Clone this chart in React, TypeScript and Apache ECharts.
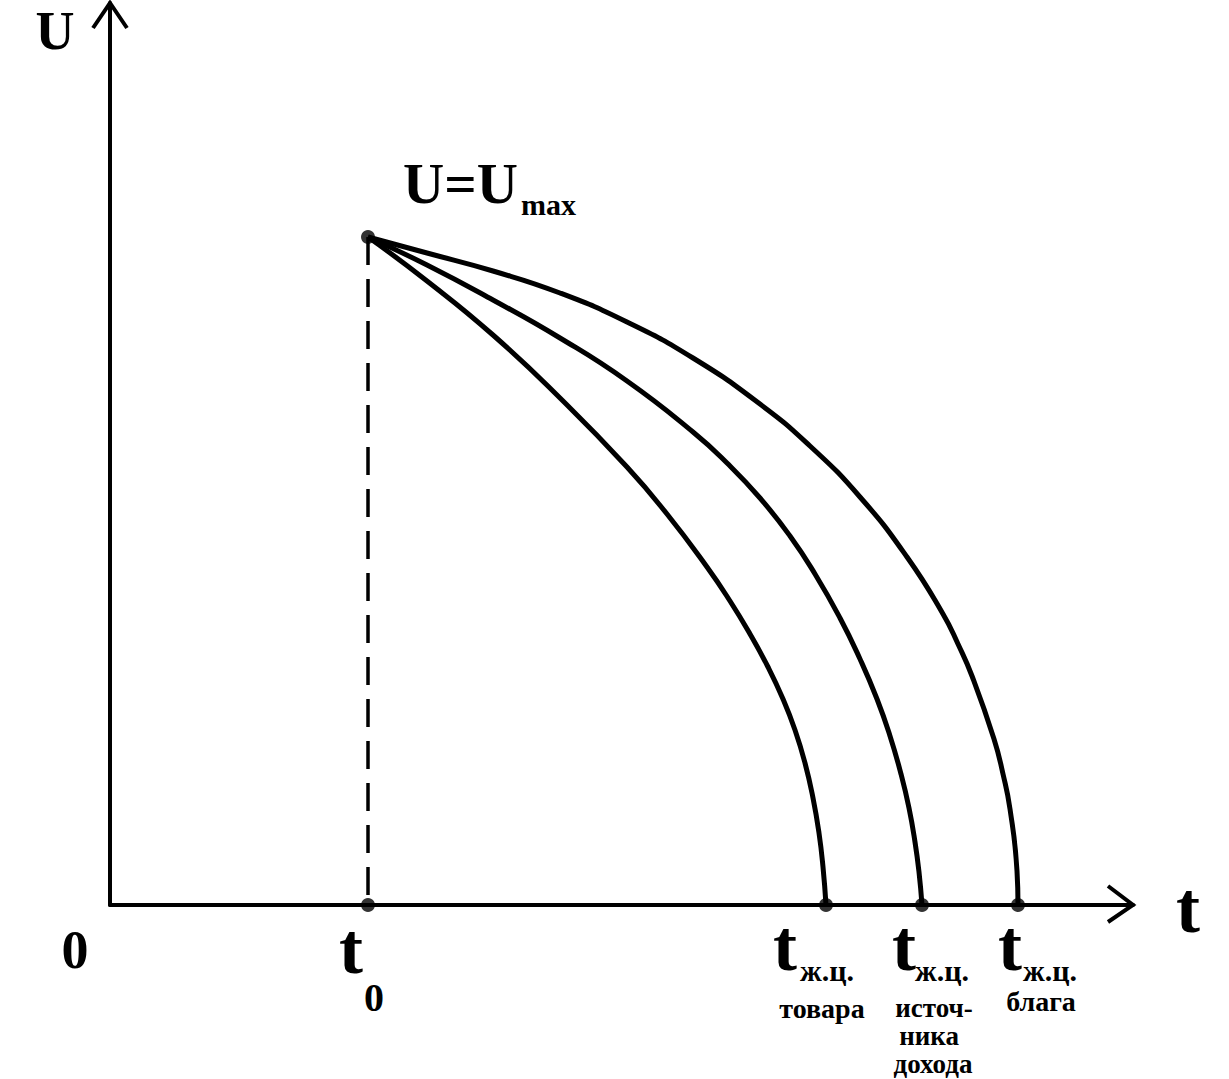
import React, { useEffect, useRef } from "react";
import * as echarts from "echarts";

// Data (x: time units, y: utility units)
const peakPoint: [number, number] = [258, 668];
const curveGoods: [number, number][] = [
  [258, 668], [317, 624], [383, 570], [450, 507], [517, 438], [557, 391],
  [597, 338], [620, 304], [640, 271], [658, 238], [673, 206], [685, 175],
  [695, 142], [703, 107], [709, 72], [713, 38], [716, 0],
];
const curveIncome: [number, number][] = [
  [258, 668], [317, 640], [383, 605], [450, 567], [517, 524], [583, 473],
  [617, 442], [650, 407], [680, 369], [705, 331], [730, 287], [750, 246],
  [767, 206], [780, 169], [791, 131], [799, 97], [805, 63], [809, 33], [812, 0],
];
const curveBenefit: [number, number][] = [
  [258, 668], [317, 652], [383, 634], [450, 612], [517, 583], [583, 547],
  [650, 501], [700, 459], [750, 408], [797, 348], [833, 291], [848, 261],
  [862, 229], [884, 166], [893, 131], [900, 96], [907, 34], [908, 0],
];
const axisDots: [number, number][] = [[258, 0], [716, 0], [812, 0], [908, 0]];
const X_MAX = 1023;
const Y_MAX = 902;

const FONT = "'Liberation Serif', 'DejaVu Serif', serif";

export default function App() {
  const ref = useRef<HTMLDivElement>(null);
  useEffect(() => {
    if (!ref.current) return;
    const chart = echarts.init(ref.current, undefined, { renderer: "svg" });
    const lineStyle = { color: "#000", width: 5 };
    const txt = (
      text: string,
      x: number,
      y: number,
      size: number,
      align: string = "center"
    ) => ({
      type: "text",
      x,
      y,
      style: {
        text,
        fill: "#000",
        font: `bold ${size}px ${FONT}`,
        align,
        verticalAlign: "middle",
      },
    });
    chart.setOption({
      animation: false,
      backgroundColor: "#fff",
      grid: { left: 110, right: 96, top: 3, bottom: 174 },
      xAxis: {
        type: "value",
        min: 0,
        max: X_MAX,
        axisLine: { show: true, onZero: false, lineStyle: { color: "#000", width: 4 } },
        axisTick: { show: false },
        axisLabel: { show: false },
        splitLine: { show: false },
      },
      yAxis: {
        type: "value",
        min: 0,
        max: Y_MAX,
        axisLine: { show: true, onZero: false, lineStyle: { color: "#000", width: 4 } },
        axisTick: { show: false },
        axisLabel: { show: false },
        splitLine: { show: false },
      },
      series: [
        {
          type: "line",
          data: [peakPoint, [peakPoint[0], 0]],
          showSymbol: false,
          lineStyle: { color: "#000", width: 3.5, type: [28, 14] },
        },
        { type: "line", data: curveGoods, smooth: 0.5, showSymbol: false, lineStyle },
        { type: "line", data: curveIncome, smooth: 0.5, showSymbol: false, lineStyle },
        { type: "line", data: curveBenefit, smooth: 0.5, showSymbol: false, lineStyle },
        {
          type: "scatter",
          data: [peakPoint, ...axisDots],
          symbolSize: 14,
          itemStyle: { color: "#000" },
          z: 5,
        },
      ],
      graphic: [
        {
          type: "polyline",
          shape: { points: [[93, 28], [110, 3], [127, 28]] },
          style: { stroke: "#000", lineWidth: 4, fill: null },
        },
        {
          type: "polyline",
          shape: { points: [[1108, 886], [1133, 905], [1108, 922]] },
          style: { stroke: "#000", lineWidth: 4, fill: null },
        },
        txt("U", 55, 31, 54),
        txt("U=U", 403, 183, 57, "left"),
        txt("max", 521, 204, 30, "left"),
        txt("t", 1188, 908, 72),
        txt("0", 75, 950, 54),
        txt("t", 351, 949, 72),
        txt("0", 374, 997, 40),
        txt("t", 785, 946, 72),
        txt("ж.ц.", 800, 970, 30, "left"),
        txt("t", 904, 946, 72),
        txt("ж.ц.", 915, 970, 30, "left"),
        txt("t", 1010, 946, 72),
        txt("ж.ц.", 1023, 970, 30, "left"),
        txt("товара", 822, 1008, 28),
        txt("источ-", 934, 1008, 27),
        txt("ника", 929, 1036, 27),
        txt("дохода", 933, 1064, 27),
        txt("блага", 1041, 1001, 28),
      ],
    });
    return () => chart.dispose();
  }, []);
  return (
    <div
      ref={ref}
      style={{ position: "absolute", left: 0, top: 0, width: 1229, height: 1079 }}
    />
  );
}
